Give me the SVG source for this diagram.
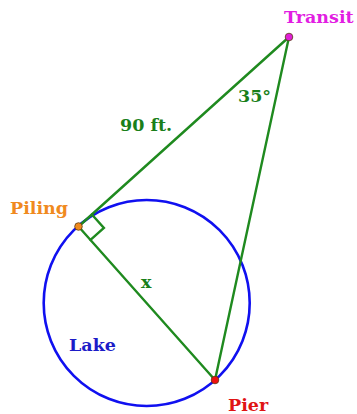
<svg xmlns="http://www.w3.org/2000/svg" width="357" height="414" viewBox="0 0 357 414">
<style>
text{font-family:"DejaVu Serif","Liberation Serif",serif;font-weight:bold;font-size:17.5px}
.seg{stroke:#1f8a1f;stroke-width:2.4;fill:none;stroke-linecap:round}
.g{fill:#1a7f1a}
.dot{stroke:#5a3a10;stroke-width:0.8}
</style>
<rect width="357" height="414" fill="#ffffff"/>
<g id="lake">
<circle cx="146.7" cy="303" r="103" fill="none" stroke="#1010f0" stroke-width="2.6"/>
<text x="69" y="351" fill="#1c1cc8">Lake</text>
</g>
<g id="connectors">
<line class="seg" x1="78.5" y1="226.5" x2="289" y2="37"/>
<line class="seg" x1="289" y1="37" x2="215" y2="380"/>
<line class="seg" x1="78.5" y1="226.5" x2="215" y2="380"/>
<polyline class="seg" points="91.9,214.5 103.9,227.9 90.5,239.9"/>
<text class="g" x="120" y="131">90 ft.</text>
<text class="g" x="238" y="102">35°</text>
<text class="g" x="141" y="288">x</text>
</g>
<g id="transit">
<circle class="dot" cx="289" cy="37" r="3.8" fill="#e020d8"/>
<text x="284" y="23" fill="#e21ee2">Transit</text>
</g>
<g id="piling">
<circle class="dot" cx="78.5" cy="226.5" r="3.8" fill="#f08a1e"/>
<text x="10" y="214" fill="#f08a1e">Piling</text>
</g>
<g id="pier">
<circle class="dot" cx="215" cy="380" r="3.8" fill="#f01010"/>
<text x="228" y="411" fill="#e01414">Pier</text>
</g>
</svg>
